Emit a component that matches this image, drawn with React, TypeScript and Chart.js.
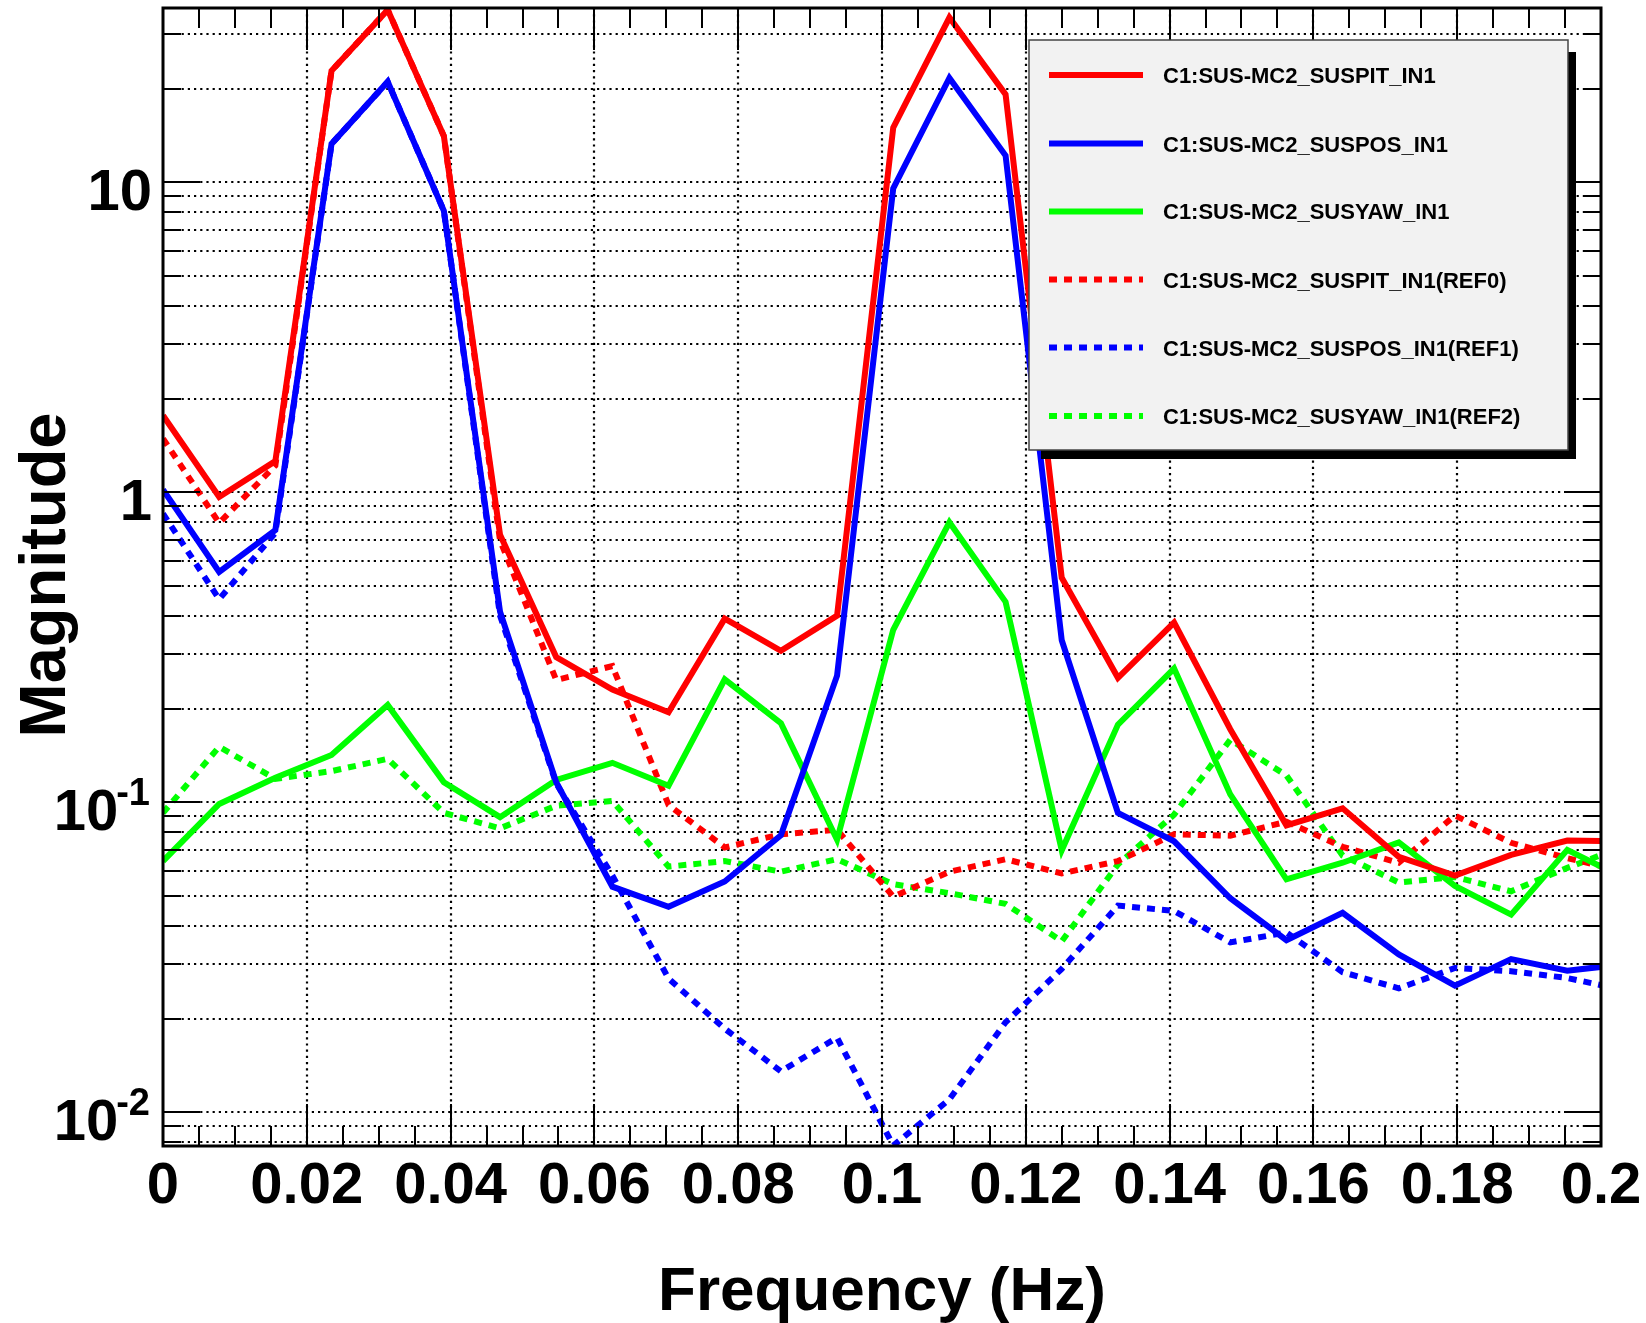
import React, { useEffect, useRef } from 'react';
import { Chart, registerables } from 'chart.js';

Chart.register(...registerables);

// ---------- data ----------
const frequencies = [
  0, 0.0078125, 0.015625, 0.0234375, 0.03125, 0.0390625, 0.046875, 0.0546875, 0.0625,
  0.0703125, 0.078125, 0.0859375, 0.09375, 0.1015625, 0.109375, 0.1171875, 0.125,
  0.1328125, 0.140625, 0.1484375, 0.15625, 0.1640625, 0.171875, 0.1796875, 0.1875,
  0.1953125, 0.203125,
];

const susPit = [
  1.77, 0.966, 1.26, 22.9, 36, 14.1, 0.73, 0.294, 0.231, 0.195, 0.391, 0.308, 0.4, 15.0,
  34, 19.2, 0.53, 0.252, 0.38, 0.172, 0.0842, 0.0956, 0.0667, 0.058, 0.0676, 0.0752, 0.0748,
];
const susPos = [
  1.02, 0.553, 0.755, 13.3, 21.1, 8.09, 0.412, 0.116, 0.0534, 0.046, 0.0555, 0.0782, 0.256,
  9.55, 21.7, 12.2, 0.333, 0.0924, 0.0748, 0.049, 0.0359, 0.044, 0.0323, 0.0256, 0.0312,
  0.0286, 0.03,
];
const susYaw = [
  0.0646, 0.0987, 0.12, 0.142, 0.206, 0.116, 0.0895, 0.118, 0.134, 0.113, 0.249, 0.18,
  0.0757, 0.36, 0.8, 0.443, 0.07, 0.178, 0.27, 0.106, 0.0564, 0.0638, 0.0742, 0.0537,
  0.0434, 0.0702, 0.057,
];
const susPitRef0 = [
  1.49, 0.796, 1.22, 22.9, 36, 14.1, 0.7, 0.248, 0.275, 0.098, 0.0715, 0.0788, 0.0815,
  0.0496, 0.0597, 0.0655, 0.0589, 0.0646, 0.0788, 0.078, 0.0865, 0.0718, 0.0638, 0.0906,
  0.074, 0.066, 0.06,
];
const susPosRef1 = [
  0.853, 0.452, 0.74, 13.3, 21.1, 8.09, 0.4, 0.115, 0.058, 0.027, 0.0186, 0.01355, 0.0174,
  0.0078, 0.011, 0.0195, 0.029, 0.0464, 0.0446, 0.0353, 0.038, 0.0283, 0.0251, 0.0292,
  0.0285, 0.0271, 0.0248,
];
const susYawRef2 = [
  0.0924, 0.151, 0.119, 0.126, 0.138, 0.0924, 0.0824, 0.0974, 0.101, 0.062, 0.0646, 0.0597,
  0.0655, 0.0544, 0.0509, 0.047, 0.0356, 0.063, 0.0912, 0.159, 0.122, 0.0673, 0.0551,
  0.0574, 0.0516, 0.0614, 0.072,
];

const seriesLabels = [
  'C1:SUS-MC2_SUSPIT_IN1',
  'C1:SUS-MC2_SUSPOS_IN1',
  'C1:SUS-MC2_SUSYAW_IN1',
  'C1:SUS-MC2_SUSPIT_IN1(REF0)',
  'C1:SUS-MC2_SUSPOS_IN1(REF1)',
  'C1:SUS-MC2_SUSYAW_IN1(REF2)',
];
const seriesValues = [susPit, susPos, susYaw, susPitRef0, susPosRef1, susYawRef2];
const seriesColors = ['#ff0000', '#0000ff', '#00ff00', '#ff0000', '#0000ff', '#00ff00'];
const seriesDashed = [false, false, false, true, true, true];

const xTickValues = [0, 0.02, 0.04, 0.06, 0.08, 0.1, 0.12, 0.14, 0.16, 0.18, 0.2];
const xTickLabels = ['0', '0.02', '0.04', '0.06', '0.08', '0.1', '0.12', '0.14', '0.16', '0.18', '0.2'];
const xMinorStep = 0.005;
const yMajorTicks = [0.01, 0.1, 1, 10];
const yTickBase = ['10', '10', '1', '10'];
const yTickExp = ['-2', '-1', '', ''];
const yMinorMultipliers = [2, 3, 4, 5, 6, 7, 8, 9];

const X_MIN = 0;
const X_MAX = 0.2;
const Y_MIN = 0.00778;
const Y_MAX = 36.5;

const xTitle = 'Frequency (Hz)';
const yTitle = 'Magnitude';

// ---------- styling ----------
const FONT = "'Liberation Sans', Arial, Helvetica, sans-serif";
const DASH = [8, 7];

function allYTicks(): { v: number; major: boolean }[] {
  const out: { v: number; major: boolean }[] = [];
  for (let n = -3; n <= 1; n++) {
    const d = Math.pow(10, n);
    out.push({ v: d, major: true });
    for (const k of yMinorMultipliers) out.push({ v: k * d, major: false });
  }
  return out.filter((t) => t.v >= Y_MIN && t.v <= Y_MAX);
}

function allXTicks(): { v: number; major: boolean }[] {
  const out: { v: number; major: boolean }[] = [];
  const n = Math.round((X_MAX - X_MIN) / xMinorStep);
  for (let i = 0; i <= n; i++) {
    const v = X_MIN + i * xMinorStep;
    out.push({ v, major: i % 4 === 0 });
  }
  return out;
}

const rootPlugin = {
  id: 'rootStyle',
  beforeDatasetsDraw(chart: any) {
    const { ctx, chartArea: a, scales } = chart;
    const xs = scales.x;
    const ys = scales.y;
    ctx.save();
    ctx.strokeStyle = '#000';
    ctx.lineWidth = 2.2;
    ctx.setLineDash([2.2, 4]);
    ctx.lineCap = 'butt';
    for (const v of xTickValues) {
      if (v <= X_MIN || v >= X_MAX) continue;
      const px = Math.round(xs.getPixelForValue(v));
      ctx.beginPath();
      ctx.moveTo(px, a.top);
      ctx.lineTo(px, a.bottom);
      ctx.stroke();
    }
    for (const t of allYTicks()) {
      const py = Math.round(ys.getPixelForValue(t.v));
      ctx.beginPath();
      ctx.moveTo(a.left, py);
      ctx.lineTo(a.right, py);
      ctx.stroke();
    }
    ctx.restore();
  },
  afterDatasetsDraw(chart: any) {
    const { ctx, chartArea: a, scales } = chart;
    const xs = scales.x;
    const ys = scales.y;
    ctx.save();
    ctx.setLineDash([]);
    ctx.strokeStyle = '#000';

    // ticks
    ctx.lineWidth = 2;
    for (const t of allYTicks()) {
      const py = Math.round(ys.getPixelForValue(t.v));
      const len = t.major ? 37 : 18;
      ctx.beginPath();
      ctx.moveTo(a.left, py);
      ctx.lineTo(a.left + len, py);
      ctx.moveTo(a.right, py);
      ctx.lineTo(a.right - len, py);
      ctx.stroke();
    }
    for (const t of allXTicks()) {
      const px = Math.round(xs.getPixelForValue(t.v));
      const len = t.major ? 42 : 20;
      ctx.beginPath();
      ctx.moveTo(px, a.bottom);
      ctx.lineTo(px, a.bottom - len);
      ctx.moveTo(px, a.top);
      ctx.lineTo(px, a.top + len);
      ctx.stroke();
    }

    // frame
    ctx.lineWidth = 3;
    ctx.strokeRect(a.left, a.top, a.right - a.left, a.bottom - a.top);

    // x tick labels
    ctx.fillStyle = '#000';
    ctx.font = `bold 58px ${FONT}`;
    ctx.textAlign = 'center';
    ctx.textBaseline = 'alphabetic';
    xTickValues.forEach((v, i) => {
      const px = xs.getPixelForValue(v);
      ctx.fillText(xTickLabels[i], px, a.bottom + 57);
    });

    // y tick labels
    const rightX = 150;
    yMajorTicks.forEach((v, i) => {
      const py = ys.getPixelForValue(v);
      const base = yTickBase[i];
      const exp = yTickExp[i];
      const baseline = py + 28;
      ctx.textAlign = 'right';
      if (exp) {
        ctx.font = `bold 38px ${FONT}`;
        const ew = ctx.measureText(exp).width;
        ctx.fillText(exp, rightX, baseline - 25);
        ctx.font = `bold 58px ${FONT}`;
        ctx.fillText(base, rightX - ew + 2, baseline);
      } else {
        ctx.font = `bold 58px ${FONT}`;
        ctx.fillText(base, rightX + 2, baseline);
      }
    });

    // axis titles
    ctx.font = `bold 62px ${FONT}`;
    ctx.textAlign = 'center';
    ctx.fillText(xTitle, 882, 1310);
    ctx.save();
    ctx.translate(65, 575);
    ctx.rotate(-Math.PI / 2);
    ctx.font = `bold 65px ${FONT}`;
    ctx.fillText(yTitle, 0, 0);
    ctx.restore();

    // legend
    const lx0 = 1029;
    const ly0 = 40;
    const lx1 = 1568;
    const ly1 = 450;
    ctx.fillStyle = '#000';
    ctx.fillRect(lx0 + 12, ly1, lx1 - lx0 - 4, 9);
    ctx.fillRect(lx1, ly0 + 12, 8, ly1 - ly0 - 3);
    ctx.fillStyle = '#f2f2f2';
    ctx.fillRect(lx0, ly0, lx1 - lx0, ly1 - ly0);
    ctx.strokeStyle = '#444';
    ctx.lineWidth = 1.5;
    ctx.strokeRect(lx0, ly0, lx1 - lx0, ly1 - ly0);
    const rowY = [75, 143.6, 211.4, 279.6, 347.5, 416];
    chart.data.datasets.forEach((ds: any, i: number) => {
      const y = rowY[i];
      ctx.strokeStyle = ds.borderColor;
      ctx.lineWidth = 6;
      ctx.lineCap = 'butt';
      ctx.setLineDash(ds.borderDash || []);
      ctx.beginPath();
      ctx.moveTo(1049, y);
      ctx.lineTo(1143, y);
      ctx.stroke();
      ctx.setLineDash([]);
      ctx.fillStyle = '#000';
      ctx.font = `bold 22px ${FONT}`;
      ctx.textAlign = 'left';
      ctx.textBaseline = 'alphabetic';
      ctx.fillText(ds.label, 1163, y + 8);
    });
    ctx.restore();
  },
};

export default function App() {
  const ref = useRef<HTMLCanvasElement | null>(null);
  useEffect(() => {
    const canvas = ref.current;
    if (!canvas) return;
    const datasets = seriesLabels.map((label, s) => ({
      label,
      data: frequencies.map((f, i) => ({ x: f, y: seriesValues[s][i] })),
      borderColor: seriesColors[s],
      backgroundColor: seriesColors[s],
      borderWidth: 6,
      borderDash: seriesDashed[s] ? DASH : [],
      borderCapStyle: 'butt' as const,
      borderJoinStyle: 'miter' as const,
      pointRadius: 0,
      tension: 0,
      fill: false,
      clip: 0,
    }));
    const chart = new Chart(canvas, {
      type: 'line',
      data: { datasets },
      options: {
        responsive: false,
        animation: false,
        devicePixelRatio: 1,
        layout: { padding: { left: 163, right: 45, top: 8, bottom: 177 } },
        scales: {
          x: { type: 'linear', min: X_MIN, max: X_MAX, display: false },
          y: { type: 'logarithmic', min: Y_MIN, max: Y_MAX, display: false },
        },
        plugins: { legend: { display: false }, tooltip: { enabled: false } },
        elements: { point: { radius: 0 } },
      } as any,
      plugins: [rootPlugin as any],
    });
    return () => chart.destroy();
  }, []);
  return (
    <div style={{ position: 'absolute', left: 0, top: 0, width: 1646, height: 1323, background: '#fff' }}>
      <canvas ref={ref} width={1646} height={1323} style={{ display: 'block', width: 1646, height: 1323 }} />
    </div>
  );
}
